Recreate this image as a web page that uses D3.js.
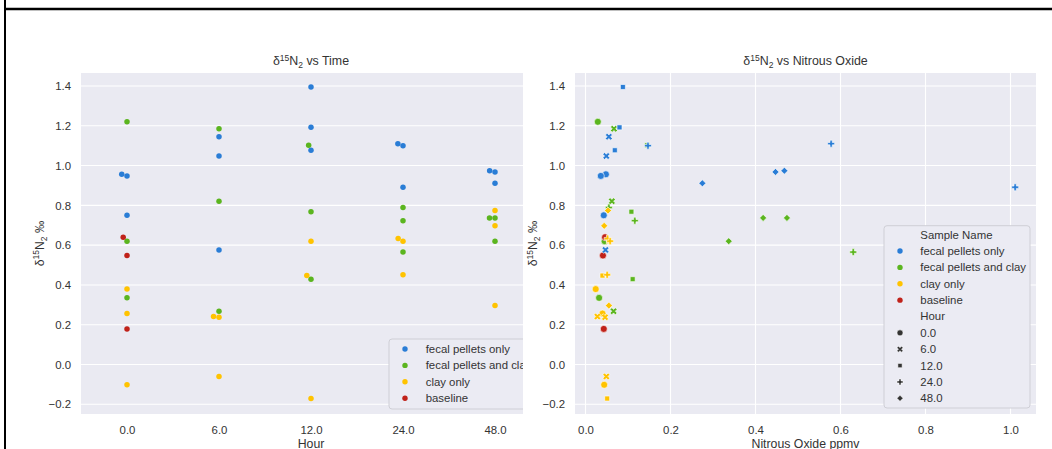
<!DOCTYPE html>
<html>
<head>
<meta charset="utf-8">
<script src="https://cdn.jsdelivr.net/npm/d3@7"></script>
<style>
  body { margin: 0; background: #fff; }
  text { font-family: "Liberation Sans", Arial, sans-serif; fill: #333; }
</style>
</head>
<body>
<div id="chart"></div>
<script>
// categories and ticks
const hours = ["0.0", "6.0", "12.0", "24.0", "48.0"];
const sampleNames = ["fecal pellets only", "fecal pellets and clay", "clay only", "baseline"];
const yTicks = [-0.2, 0.0, 0.2, 0.4, 0.6, 0.8, 1.0, 1.2, 1.4];
const n2oTicks = [0.0, 0.2, 0.4, 0.6, 0.8, 1.0];

// one entry per measurement
// sample: 0 fecal pellets only, 1 fecal pellets and clay, 2 clay only, 3 baseline
const sampleOf = [
  0, 0, 0, 1, 1, 1, 2, 2, 2, 3, 3, 3,
  0, 0, 0, 1, 1, 1, 2, 2, 2,
  0, 0, 0, 1, 1, 1, 2, 2, 2,
  0, 0, 0, 1, 1, 1, 2, 2, 2,
  0, 0, 0, 1, 1, 1, 2, 2, 2
];
const hourOf = [
  0, 0, 0, 0, 0, 0, 0, 0, 0, 0, 0, 0,
  1, 1, 1, 1, 1, 1, 1, 1, 1,
  2, 2, 2, 2, 2, 2, 2, 2, 2,
  3, 3, 3, 3, 3, 3, 3, 3, 3,
  4, 4, 4, 4, 4, 4, 4, 4, 4
];
const d15N2 = [
  0.956, 0.948, 0.750, 1.220, 0.620, 0.335, 0.379, 0.256, -0.102, 0.640, 0.548, 0.179,
  1.145, 1.048, 0.576, 1.185, 0.821, 0.268, 0.241, 0.238, -0.060,
  1.395, 1.192, 1.077, 1.102, 0.768, 0.429, 0.620, 0.447, -0.171,
  1.110, 1.100, 0.891, 0.789, 0.723, 0.565, 0.633, 0.620, 0.451,
  0.974, 0.968, 0.911, 0.737, 0.737, 0.620, 0.774, 0.697, 0.296
];
const nitrousOxide = [
  0.048, 0.036, 0.043, 0.029, 0.045, 0.032, 0.024, 0.040, 0.044, 0.046, 0.041, 0.043,
  0.055, 0.049, 0.047, 0.067, 0.062, 0.066, 0.028, 0.046, 0.049,
  0.088, 0.080, 0.069, 0.145, 0.108, 0.111, 0.055, 0.040, 0.051,
  0.578, 0.147, 1.011, 0.055, 0.116, 0.630, 0.052, 0.058, 0.051,
  0.468, 0.447, 0.275, 0.418, 0.474, 0.337, 0.053, 0.044, 0.055
];

const colors = ["#2a7dd6", "#5bb51f", "#ffc300", "#c0221a"];
const bg = "#eaeaf2";

var width = 1052, height = 449;
var svg = d3.select("#chart").append("svg")
  .attr("width", width).attr("height", height)
  .style("display", "block");

var data = d15N2.map((v, i) => ({ v: v, n: nitrousOxide[i], s: sampleOf[i], h: hourOf[i] }));

var plotTop = 73, plotBottom = 414;
var y = d3.scaleLinear().domain([-0.2488, 1.4653]).range([plotBottom, plotTop]);

// marker outlines, unit size 1
function polyPath(pts, d) {
  return "M" + pts.map(p => (p[0] * d).toFixed(2) + "," + (p[1] * d).toFixed(2)).join("L") + "Z";
}
const plusPts = [[-1, -3], [1, -3], [1, -1], [3, -1], [3, 1], [1, 1], [1, 3], [-1, 3], [-1, 1], [-3, 1], [-3, -1], [-1, -1]].map(p => [p[0] / 6, p[1] / 6]);
const xPts = [[-1, -2], [0, -1], [1, -2], [2, -1], [1, 0], [2, 1], [1, 2], [0, 1], [-1, 2], [-2, 1], [-1, 0], [-2, -1]].map(p => [p[0] / 4, p[1] / 4]);
const sqPts = [[-0.3536, -0.3536], [0.3536, -0.3536], [0.3536, 0.3536], [-0.3536, 0.3536]];
const diaPts = [[0, -0.5], [0.5, 0], [0, 0.5], [-0.5, 0]];
function marker(h, d) {
  if (h === 0) return d3.symbol(d3.symbolCircle, Math.PI * d * d / 4)();
  if (h === 1) return polyPath(xPts, d);
  if (h === 2) return polyPath(sqPts, d);
  if (h === 3) return polyPath(plusPts, d);
  return polyPath(diaPts, d);
}

function drawYAxis(g, x0, x1) {
  g.append("rect").attr("x", x0).attr("y", plotTop).attr("width", x1 - x0).attr("height", plotBottom - plotTop).attr("fill", bg);
  g.selectAll(".hgrid").data(yTicks).enter().append("line")
    .attr("x1", x0).attr("x2", x1)
    .attr("y1", d => y(d)).attr("y2", d => y(d))
    .attr("stroke", "#fff").attr("stroke-width", 1.1);
  var ax = g.append("g").attr("transform", "translate(" + x0 + ",0)")
    .call(d3.axisLeft(y).tickValues(yTicks).tickSize(0).tickPadding(10).tickFormat(d3.format(".1f")));
  ax.select(".domain").remove();
  ax.selectAll("text").style("font-size", "11.4px").attr("fill", "#333")
    .style("font-family", '"Liberation Sans", Arial, sans-serif');
}

function title(g, cx, rest) {
  var t = g.append("text").attr("x", cx).attr("y", 65).attr("text-anchor", "middle").style("font-size", "12.4px");
  t.append("tspan").text("δ");
  t.append("tspan").attr("dy", -4.5).style("font-size", "8.5px").text("15");
  t.append("tspan").attr("dy", 4.5).text("N");
  t.append("tspan").attr("dy", 3).style("font-size", "8.5px").text("2");
  t.append("tspan").attr("dy", -3).text(" " + rest);
}

function ylabel(g, x) {
  var t = g.append("text").attr("transform", "translate(" + x + "," + ((plotTop + plotBottom) / 2) + ") rotate(-90)")
    .attr("text-anchor", "middle").style("font-size", "12.3px");
  t.append("tspan").text("δ");
  t.append("tspan").attr("dy", -4.5).style("font-size", "8.5px").text("15");
  t.append("tspan").attr("dy", 4.5).text("N");
  t.append("tspan").attr("dy", 3).style("font-size", "8.5px").text("2");
  t.append("tspan").attr("dy", -3).text(" ‰");
}

// ---------- left panel: swarm of d15N2 by hour ----------
var L = svg.append("g");
var lx0 = 81, lx1 = 541;
var xBand = d3.scalePoint().domain(hours).range([lx0, lx1]).padding(0.5);
drawYAxis(L, lx0, lx1);

var xa = L.append("g").attr("transform", "translate(0," + plotBottom + ")")
  .call(d3.axisBottom(xBand).tickSize(0).tickPadding(11.5));
xa.select(".domain").remove();
xa.selectAll("text").style("font-size", "11.4px").attr("fill", "#333")
  .style("font-family", '"Liberation Sans", Arial, sans-serif');

// beeswarm offsets: lowest value first, nearest free slot, left side wins ties
var dot = 5.5;
hours.forEach((hr, hi) => {
  var pts = data.filter(d => d.h === hi).sort((a, b) => a.v - b.v);
  var placed = [];
  pts.forEach(p => {
    var py = y(p.v);
    var cands = [0];
    placed.forEach(q => {
      var dy = Math.abs(py - q.py);
      if (dy < dot) {
        var dx = Math.sqrt(dot * dot - dy * dy);
        cands.push(q.dx - dx, q.dx + dx);
      }
    });
    cands.sort((a, b) => Math.abs(a) - Math.abs(b));
    var pick = cands.find(c => placed.every(q => (c - q.dx) ** 2 + (py - q.py) ** 2 >= dot * dot - 0.01));
    p.dx = pick;
    p.py = py;
    placed.push(p);
  });
});

L.append("g").selectAll("circle").data(data.slice().sort((a, b) => a.s - b.s)).enter().append("circle")
  .attr("cx", d => xBand(hours[d.h]) + d.dx)
  .attr("cy", d => y(d.v))
  .attr("r", dot / 2)
  .attr("fill", d => colors[d.s]);

// legend (left)
var lg = L.append("g").attr("transform", "translate(389,339)");
lg.append("rect").attr("width", 170).attr("height", 70).attr("rx", 3)
  .attr("fill", "#ebebf3").attr("stroke", "#cfcfd6").attr("stroke-width", 1);
sampleNames.forEach((name, i) => {
  var cy = 10 + i * 16.4;
  lg.append("circle").attr("cx", 16).attr("cy", cy).attr("r", 2.7).attr("fill", colors[i]);
  lg.append("text").attr("x", 36.7).attr("y", cy + 4).style("font-size", "11.4px").text(name);
});

title(L, (lx0 + lx1) / 2, "vs Time");
ylabel(L, 43.5);
L.append("text").attr("x", (lx0 + lx1) / 2).attr("y", 447.5).attr("text-anchor", "middle")
  .style("font-size", "12.3px").text("Hour");

// right figure sits on top of the left one
svg.append("rect").attr("x", 523).attr("y", 10).attr("width", width - 523).attr("height", height - 10).attr("fill", "#fff");

// ---------- right panel: d15N2 vs nitrous oxide ----------
var R = svg.append("g");
var rx0 = 575, rx1 = 1036;
var xN = d3.scaleLinear().domain([-0.0247, 1.0600]).range([rx0, rx1]);
drawYAxis(R, rx0, rx1);
R.selectAll(".vgrid").data(n2oTicks).enter().append("line")
  .attr("x1", d => xN(d)).attr("x2", d => xN(d))
  .attr("y1", plotTop).attr("y2", plotBottom)
  .attr("stroke", "#fff").attr("stroke-width", 1.1);

var xb = R.append("g").attr("transform", "translate(0," + plotBottom + ")")
  .call(d3.axisBottom(xN).tickValues(n2oTicks).tickSize(0).tickPadding(11.5).tickFormat(d3.format(".1f")));
xb.select(".domain").remove();
xb.selectAll("text").style("font-size", "11.4px").attr("fill", "#333")
  .style("font-family", '"Liberation Sans", Arial, sans-serif');

R.append("g").selectAll("path").data(data).enter().append("path")
  .attr("transform", d => "translate(" + xN(d.n) + "," + y(d.v) + ")")
  .attr("d", d => marker(d.h, 7))
  .attr("fill", d => colors[d.s])
  .attr("stroke", "#fff").attr("stroke-width", 0.6);

// legend (right)
var rg = R.append("g").attr("transform", "translate(884,225.7)");
rg.append("rect").attr("width", 146).attr("height", 182.3).attr("rx", 3)
  .attr("fill", "#ebebf3").attr("stroke", "#cfcfd6").attr("stroke-width", 1);
var rows = [{ label: "Sample Name" }]
  .concat(sampleNames.map((n, i) => ({ label: n, color: colors[i] })))
  .concat([{ label: "Hour" }])
  .concat(hours.map((h, i) => ({ label: h, shape: i })));
rows.forEach((r, i) => {
  var cy = 9 + i * 16.36;
  if (r.color) {
    rg.append("circle").attr("cx", 16).attr("cy", cy).attr("r", 2.7).attr("fill", r.color);
  } else if (r.shape !== undefined) {
    rg.append("path").attr("transform", "translate(16," + cy + ")")
      .attr("d", marker(r.shape, 6)).attr("fill", "#333").attr("stroke", "#fff").attr("stroke-width", 0.5);
  }
  rg.append("text").attr("x", 36.3).attr("y", cy + 4).style("font-size", "11.4px").text(r.label);
});

title(R, (rx0 + rx1) / 2, "vs Nitrous Oxide");
ylabel(R, 537);
R.append("text").attr("x", (rx0 + rx1) / 2).attr("y", 447.5).attr("text-anchor", "middle")
  .style("font-size", "12.3px").text("Nitrous Oxide ppmv");

// page frame
svg.append("line").attr("x1", 5).attr("x2", width).attr("y1", 9).attr("y2", 9)
  .attr("stroke", "#000").attr("stroke-width", 2.5);
svg.append("line").attr("x1", 5).attr("x2", 5).attr("y1", 0).attr("y2", height)
  .attr("stroke", "#000").attr("stroke-width", 2);
</script>
</body>
</html>
